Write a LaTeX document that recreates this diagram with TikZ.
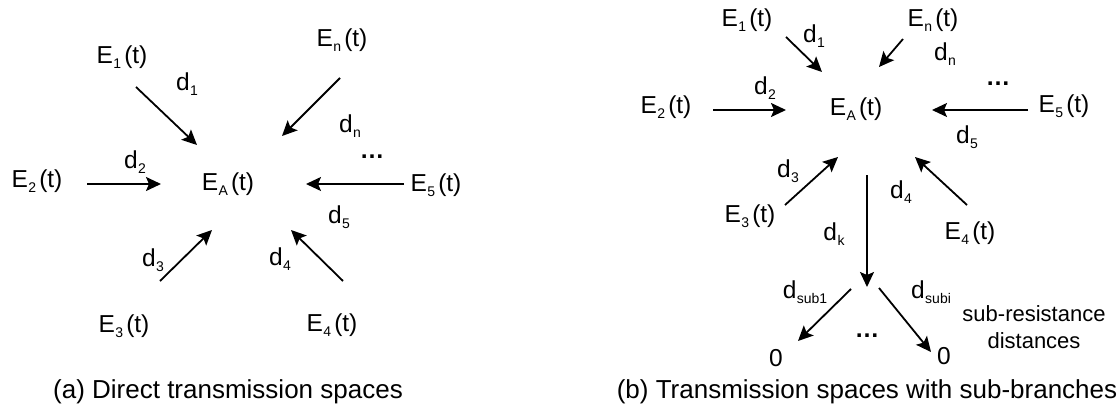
\documentclass[tikz,border=0pt]{standalone}
\usepackage{fontspec}
\setmainfont{Liberation Sans}
\usetikzlibrary{arrows.meta}
\newcommand{\lowsub}[1]{\kern0.5pt\raisebox{-5.5pt}{\fontsize{14}{14}\selectfont #1}}
\newcommand{\ent}[1]{E\lowsub{#1}\kern3pt(t)}
\newcommand{\dist}[1]{d\lowsub{#1}}
\tikzset{
    every node/.style={font=\fontsize{24.5}{28}\selectfont, inner sep=0pt},
    flow/.style={
        -{Stealth[length=15pt,width=14pt,inset=3pt]}, line width=1.8pt
    },
    caption/.style={font=\fontsize{26}{30}\selectfont},
    note/.style={font=\fontsize{22}{27}\selectfont, align=center},
    dots/.style={anchor=base, font=\fontsize{24.5}{28}\selectfont\bfseries},
}
\begin{document}
\begin{tikzpicture}[x=1pt, y=-1pt]
    \useasboundingbox (0,0) rectangle (1120,412);

    % (a) direct transmission
    \node (aEA) at (228,184) {\ent{A}};
    \node (aE1) at (122,57)  {\ent{1}};
    \node (aEn) at (342,40)  {\ent{n}};
    \node (aE2) at (37,181)  {\ent{2}};
    \node (aE5) at (436,185) {\ent{5}};
    \node (aE3) at (124,326) {\ent{3}};
    \node (aE4) at (332,325) {\ent{4}};
    \node (ad1) at (187,84)  {\dist{1}};
    \node (adn) at (350,126) {\dist{n}};
    \node (ad2) at (135,162) {\dist{2}};
    \node (ad5) at (339,217) {\dist{5}};
    \node (ad3) at (153,260) {\dist{3}};
    \node (ad4) at (280,259) {\dist{4}};
    \node[dots] (adots) at (372,158) {…};

    \coordinate (a1s) at (136,87);  \coordinate (a1t) at (197,145);
    \coordinate (ans) at (340,78);  \coordinate (ant) at (282,136);
    \coordinate (a2s) at (87,184);  \coordinate (a2t) at (161,184);
    \coordinate (a5s) at (404,184); \coordinate (a5t) at (306,184);
    \coordinate (a3s) at (160,281); \coordinate (a3t) at (212,230);
    \coordinate (a4s) at (343,281); \coordinate (a4t) at (291,230);
    \draw[flow] (a1s) -- (a1t);
    \draw[flow] (ans) -- (ant);
    \draw[flow] (a2s) -- (a2t);
    \draw[flow] (a5s) -- (a5t);
    \draw[flow] (a3s) -- (a3t);
    \draw[flow] (a4s) -- (a4t);

    \node[caption] (capa) at (228,392) {(a) Direct transmission spaces};

    % (b) transmission with sub-branches
    \node (bEA) at (856,109) {\ent{A}};
    \node (bE1) at (747,20)  {\ent{1}};
    \node (bEn) at (933,20)  {\ent{n}};
    \node (bE2) at (666,107) {\ent{2}};
    \node (bE5) at (1064,106) {\ent{5}};
    \node (bE3) at (750,216) {\ent{3}};
    \node (bE4) at (970,233) {\ent{4}};
    \node (bd1) at (814,36)  {\dist{1}};
    \node (bdn) at (945,54)  {\dist{n}};
    \node (bd2) at (765,88)  {\dist{2}};
    \node (bd5) at (967,137) {\dist{5}};
    \node (bd3) at (788,171) {\dist{3}};
    \node (bd4) at (901,192) {\dist{4}};
    \node (bdk) at (834,234) {\dist{k}};
    \node (bds1) at (805,292) {\dist{sub1}};
    \node (bdsi) at (931,292) {\dist{subi}};
    \node[dots] (bdots) at (998,85) {…};
    \node[dots] (bdots2) at (867,337) {…};
    \node[anchor=base] (bzero1) at (776,366) {0};
    \node[anchor=base] (bzeroi) at (944,364) {0};
    \node[note] (bnote) at (1034,327) {sub-resistance\\distances};

    \coordinate (b1s) at (786,37);  \coordinate (b1t) at (822,72);
    \coordinate (bns) at (903,39);  \coordinate (bnt) at (879,67);
    \coordinate (b2s) at (713,110); \coordinate (b2t) at (786,110);
    \coordinate (b5s) at (1028,110); \coordinate (b5t) at (932,110);
    \coordinate (b3s) at (785,205); \coordinate (b3t) at (838,157);
    \coordinate (b4s) at (967,205); \coordinate (b4t) at (915,157);
    \coordinate (bks) at (867,175); \coordinate (bkt) at (867,287);
    \coordinate (bs1s) at (851,289); \coordinate (bs1t) at (798,341);
    \coordinate (bsis) at (879,288); \coordinate (bsit) at (931,352);
    \draw[flow] (b1s) -- (b1t);
    \draw[flow] (bns) -- (bnt);
    \draw[flow] (b2s) -- (b2t);
    \draw[flow] (b5s) -- (b5t);
    \draw[flow] (b3s) -- (b3t);
    \draw[flow] (b4s) -- (b4t);
    \draw[flow] (bks) -- (bkt);
    \draw[flow] (bs1s) -- (bs1t);
    \draw[flow] (bsis) -- (bsit);

    \node[caption] (capb) at (867,392) {(b) Transmission spaces with sub-branches};
\end{tikzpicture}
\end{document}
